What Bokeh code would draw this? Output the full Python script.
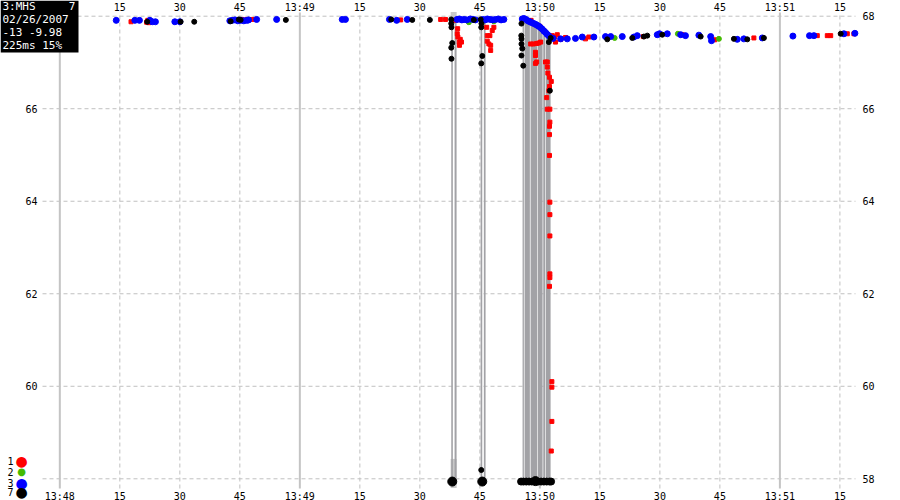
from bokeh.plotting import figure
from bokeh.models import Range1d, FixedTicker, LinearAxis, Label, BoxAnnotation
from bokeh.embed import file_html
from bokeh.resources import INLINE

# ---- axis definitions (time = seconds after 13:48:00) ----
x_ticks = [0, 15, 30, 45, 60, 75, 90, 105, 120, 135, 150, 165, 180, 195]
x_tick_labels = ["13:48", "15", "30", "45", "13:49", "15", "30", "45",
                 "13:50", "15", "30", "45", "13:51", "15"]
minute_ticks = [0, 60, 120, 180]
y_ticks_right = [58, 60, 62, 64, 66, 68]
y_ticks_left = [60, 62, 64, 66]
# plotted data window (axis bounds)
X0, X1 = -4.33, 198.9
Y0, Y1 = 57.79, 68.08

# ---- series 1 (red) ----
s1_t = [17.8, 21.7, 22.0, 22.25, 43.7, 45.6, 46.85, 48.1, 85.2, 95.2, 96.4,
        98.9, 99.4, 99.45, 99.35, 99.5, 99.85, 100.4, 99.9, 100.1,
        106.2, 106.7, 106.85, 107.5, 108.1, 108.5, 106.85, 107.25, 107.7, 107.7, 109.4,
        117.8, 117.7, 118.4, 119.2, 119.7, 120.2, 118.9, 118.9, 119.2, 118.9, 120.0,
        121.0, 121.4, 121.85, 121.85, 123.7, 123.9, 123.1, 124.35,
        122.0, 122.4, 122.85, 122.4, 122.25, 121.7, 121.85, 122.5, 122.5, 122.4,
        122.4, 122.4, 122.5, 122.5, 122.5, 122.5, 122.5, 122.4, 123.0, 123.0,
        123.0, 122.85,
        125.2, 126.4, 131.4, 132.25, 145.85, 155.6, 163.7, 173.5, 189.35, 191.85,
        192.7, 196.85, 198.5]
s1_v = [67.88, 67.87, 67.91, 67.86, 67.91, 67.93, 67.93, 67.93, 67.92, 67.93, 67.93,
        67.91, 67.93, 67.73, 67.62, 67.55, 67.44, 67.44, 67.37, 67.50,
        67.91, 67.76, 67.58, 67.58, 67.69, 67.76, 67.46, 67.40, 67.37, 67.26, 67.93,
        67.91, 67.40, 67.40, 67.41, 67.42, 67.44, 67.22, 67.15, 67.01, 66.98, 67.78,
        67.69, 67.01, 67.01, 66.90, 67.55, 67.44, 67.58, 67.60,
        66.77, 66.68, 66.59, 66.48, 66.39, 66.24, 65.99, 65.99, 65.71, 65.62,
        65.44, 64.99, 63.98, 63.71, 63.25, 62.43, 62.35, 62.16, 60.10, 59.98,
        59.24, 58.60,
        67.50, 67.54, 67.51, 67.55, 67.56, 67.60, 67.49, 67.53, 67.58, 67.58,
        67.58, 67.62, 67.62]

# ---- series 2 (green) ----
s2_t = [102.25, 108.5, 138.7, 154.5, 164.75]
s2_v = [67.87, 67.89, 67.53, 67.62, 67.51]

# ---- series 3 (blue) ----
s3_t = [14.1, 18.75, 19.9, 22.5, 23.1, 23.9, 28.75, 30.0, 42.5, 43.1, 43.8, 44.5,
        45.2, 46.0, 46.8, 47.2, 49.2, 54.2, 70.6, 71.4, 82.4, 84.2, 86.85,
        99.3, 99.9, 100.5, 101.1, 101.7, 102.6, 103.3, 103.9,
        105.7, 106.3, 106.9, 107.6, 108.2, 108.9, 109.6, 110.3, 111.0,
        115.6, 116.0, 116.5, 117.0, 117.5, 118.0, 118.5, 119.0, 119.4, 119.8,
        120.2, 120.6, 121.0, 121.4, 121.8, 122.2, 122.7, 123.3,
        125.2, 126.85, 128.9, 130.6, 133.5, 136.4, 137.7, 140.6, 143.5, 144.35,
        149.35, 149.9, 151.85, 155.2, 156.4, 159.75, 162.7, 162.9, 169.35, 171.0,
        175.6, 183.25, 187.4, 188.5, 196.0, 198.75]
s3_v = [67.91, 67.91, 67.91, 67.91, 67.88, 67.88, 67.88, 67.88, 67.90, 67.91, 67.92, 67.90,
        67.91, 67.90, 67.91, 67.92, 67.93, 67.93, 67.93, 67.93, 67.93, 67.91, 67.93,
        67.93, 67.94, 67.92, 67.93, 67.92, 67.94, 67.93, 67.92,
        67.93, 67.92, 67.94, 67.93, 67.92, 67.93, 67.94, 67.92, 67.93,
        67.94, 67.95, 67.93, 67.90, 67.88, 67.86, 67.84, 67.82, 67.80, 67.78,
        67.75, 67.72, 67.68, 67.65, 67.61, 67.58, 67.54, 67.52,
        67.51, 67.51, 67.52, 67.55, 67.55, 67.56, 67.56, 67.56, 67.55, 67.58,
        67.60, 67.62, 67.62, 67.60, 67.58, 67.59, 67.56, 67.47, 67.50, 67.51,
        67.53, 67.57, 67.58, 67.58, 67.62, 67.63]

# ---- series 7 (black) ----
s7_t = [21.85, 30.2, 33.6, 42.7, 44.75, 45.2, 56.5, 82.85, 88.1, 92.5,
        97.85, 97.85, 97.9, 98.1, 97.85, 97.9, 103.5,
        105.2, 105.4, 105.35, 105.6, 105.35, 105.35,
        115.4, 115.35, 115.4, 115.4, 115.6, 115.4, 115.85, 122.7, 122.25, 122.5,
        136.85, 143.1, 146.0, 146.85, 150.6, 160.2, 168.5, 171.85, 176.0, 195.2]
s7_v = [67.88, 67.88, 67.88, 67.89, 67.93, 67.92, 67.92, 67.93, 67.92, 67.92,
        67.93, 67.84, 67.76, 67.42, 67.32, 67.08, 67.92,
        67.93, 67.84, 67.76, 67.14, 66.98, 58.19,
        67.84, 67.58, 67.51, 67.40, 67.30, 67.15, 66.93, 67.53, 67.44, 66.39,
        67.50, 67.53, 67.56, 67.58, 67.60, 67.56, 67.51, 67.50, 67.53, 67.62]

# series 7 dropouts drawn at the floor
drop_t = [98.1, 105.6, 118.9]
drop_v = [57.94, 57.94, 57.95]
drop_band_t = [115.3, 115.9, 116.6, 117.3, 118.0, 119.6, 120.3, 121.0, 121.7,
               122.4, 122.8]
drop_band_v = [57.94] * len(drop_band_t)

# ---- gray dropout bars ----
gap_start = [97.85, 98.68, 105.18, 106.0, 115.68, 116.18, 117.68, 119.5, 120.85, 121.5]
gap_end = [98.25, 99.18, 105.6, 106.43, 116.0, 117.5, 119.35, 120.68, 121.35, 122.68]
gap_top = [67.93, 67.93, 67.93, 67.93, 67.94, 67.88, 67.80, 67.73, 67.62, 67.55]
gap_bottom = [57.87] * len(gap_start)

shade_start = [97.7, 97.7]
shade_end = [99.2, 99.2]
shade_bottom = [67.95, 57.8]
shade_top = [68.09, 58.43]

# ---- info box / legend texts ----
info_lines = ["3:MHS\u00a0\u00a0\u00a0\u00a0\u00a07", "02/26/2007", "-13\u00a0-9.98",
              "225ms\u00a015%"]
legend_names = ["1", "2", "3", "7"]
legend_colors = ["#ff0000", "#44bb00", "#0000ff", "#000000"]

FONT = "DejaVu Sans Mono"
W, H = 900, 500
# pixel placement of the data window inside the canvas
PL, PR, PT, PB = 42, 855, 12, 488
xs = (X1 - X0) / (PR - PL)
ys = (Y1 - Y0) / (PB - PT)

p = figure(width=W, height=H, output_backend="svg", toolbar_location=None,
           x_range=Range1d(X0 - PL * xs, X1 + (W - PR) * xs),
           y_range=Range1d(Y0 - (H - PB) * ys, Y1 + PT * ys),
           min_border=0, x_axis_location=None, y_axis_location=None)
p.outline_line_color = None
p.background_fill_color = "white"
p.border_fill_color = "white"
p.grid.visible = False


def make_axis(ticks, loc, standoff, overrides=None):
    ax = LinearAxis(ticker=FixedTicker(ticks=ticks), fixed_location=loc)
    if overrides:
        ax.major_label_overrides = overrides
    ax.axis_line_color = None
    ax.major_tick_line_color = None
    ax.minor_tick_line_color = None
    ax.major_tick_out = 0
    ax.major_tick_in = 0
    ax.major_label_standoff = standoff
    ax.major_label_text_font = FONT
    ax.major_label_text_font_size = "10px"
    ax.major_label_text_color = "black"
    return ax


overrides = {t: l for t, l in zip(x_ticks, x_tick_labels)}
p.add_layout(make_axis(x_ticks, Y0, 2, overrides), "below")
p.add_layout(make_axis(x_ticks, Y1, 0, overrides), "above")
p.add_layout(make_axis(y_ticks_left, X0, 5), "left")
p.add_layout(make_axis(y_ticks_right, X1, 7), "right")

# grid lines from the tick lists
sec_ticks = [t for t in x_ticks if t not in minute_ticks]
p.segment(x0=sec_ticks, y0=[Y0] * len(sec_ticks), x1=sec_ticks, y1=[Y1] * len(sec_ticks),
          line_color="#c0c0c0", line_width=1, line_dash="4 3")
p.segment(x0=[X0] * len(y_ticks_right), y0=y_ticks_right,
          x1=[X1] * len(y_ticks_right), y1=y_ticks_right,
          line_color="#c0c0c0", line_width=1, line_dash="4 3")
p.segment(x0=minute_ticks, y0=[Y0] * len(minute_ticks), x1=minute_ticks,
          y1=[Y1] * len(minute_ticks), line_color="#c4c4c4", line_width=2)

# bars
p.quad(left=shade_start, right=shade_end, bottom=shade_bottom, top=shade_top,
       fill_color="#c8c8c8", line_color=None)
p.quad(left=gap_start, right=gap_end, bottom=gap_bottom, top=gap_top,
       fill_color="#a2a2a6", line_color=None)

# points
p.scatter(s1_t, s1_v, marker="square", size=4, color="#ff0000")
p.scatter(s2_t, s2_v, marker="circle", size=5, color="#44bb00")
p.scatter(s3_t, s3_v, marker="circle", size=6, color="#0000ff")
p.scatter(s7_t, s7_v, marker="circle", size=5, color="#000000")
p.scatter(drop_band_t, drop_band_v, marker="circle", size=7, color="#000000")
p.scatter(drop_t, drop_v, marker="circle", size=9, color="#000000")

# info box and legend (screen units, frame == whole canvas)
box = BoxAnnotation(left=0, right=78, top=H, bottom=H - 52,
                    left_units="screen", right_units="screen",
                    top_units="screen", bottom_units="screen",
                    fill_color="black", fill_alpha=1.0, line_color=None)
p.add_layout(box)
info = Label(x=2, y=H + 0.5, x_units="screen", y_units="screen",
             text="\n".join(info_lines), text_font=FONT, text_font_size="11px",
             text_color="white", text_align="left", text_baseline="top",
             text_line_height=1.0)
p.add_layout(info)

leg_y = [460, 471, 482, 491.5]
leg_sz = ["14px", "10px", "14px", "14px"]
for name, col, yy, sz in zip(legend_names, legend_colors, leg_y, leg_sz):
    p.add_layout(Label(x=13, y=H - yy, x_units="screen", y_units="screen",
                       text=name, text_font=FONT, text_font_size="10px",
                       text_color="black", text_align="right", text_baseline="middle"))
    p.add_layout(Label(x=21, y=H - yy, x_units="screen", y_units="screen",
                       text="\u25cf", text_font="DejaVu Sans", text_font_size=sz,
                       text_color=col, text_align="center", text_baseline="middle"))

html = file_html(p, INLINE)
html = html.replace("<head>", "<head><style>html,body{margin:0;padding:0;overflow:hidden;}</style>", 1)
open("out.html", "w").write(html)
